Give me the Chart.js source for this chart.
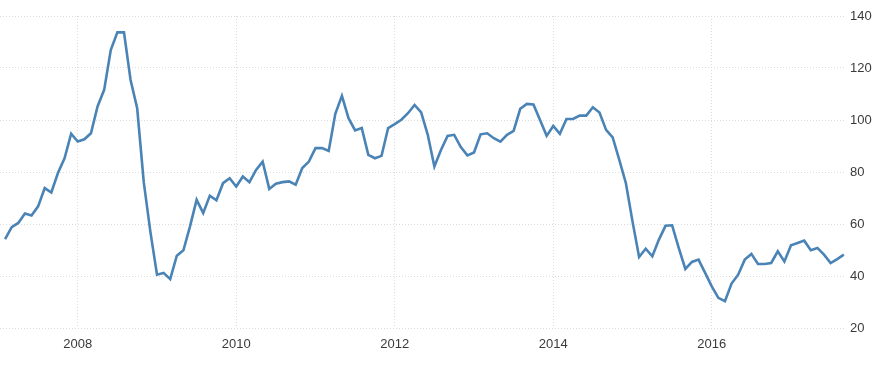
<!DOCTYPE html>
<html>
<head>
<meta charset="utf-8">
<script src="https://cdn.jsdelivr.net/npm/chart.js@4"></script>
<style>
  html, body { margin: 0; padding: 0; background: #fff; }
  #wrap { width: 886px; height: 373px; position: relative; }
</style>
</head>
<body>
<div id="wrap"><canvas id="c"></canvas></div>
<script>
// monthly values, Jan..Dec per year
const years = [2007, 2008, 2009, 2010, 2011, 2012, 2013, 2014, 2015, 2016, 2017];
const v2007 = [54.2, 58.8, 60.4, 64.0, 63.3, 66.8, 73.8, 72.1, 79.6, 85.3, 94.7, 91.7];
const v2008 = [92.6, 94.9, 105.2, 111.6, 126.9, 133.7, 133.7, 115.4, 104.5, 76.0, 57.0, 40.5];
const v2009 = [41.2, 38.8, 47.8, 49.9, 59.1, 69.3, 64.2, 70.9, 69.1, 75.7, 77.6, 74.4];
const v2010 = [78.3, 76.1, 80.8, 84.0, 73.5, 75.5, 76.1, 76.4, 75.1, 81.5, 84.0, 89.2];
const v2011 = [89.2, 88.1, 102.4, 109.3, 100.7, 96.0, 96.9, 86.6, 85.3, 86.2, 96.9, 98.4];
const v2012 = [100.1, 102.6, 105.8, 102.9, 94.3, 82.1, 88.5, 93.9, 94.3, 89.6, 86.4, 87.5];
const v2013 = [94.5, 94.9, 93.0, 91.7, 94.3, 95.8, 104.3, 106.2, 106.0, 100.0, 93.9, 97.7];
const v2014 = [94.7, 100.4, 100.4, 101.7, 101.7, 104.9, 102.9, 96.2, 93.3, 84.7, 75.7, 61.0];
const v2015 = [47.3, 50.5, 47.6, 54.0, 59.3, 59.5, 50.8, 42.7, 45.4, 46.3, 41.2, 36.0];
const v2016 = [31.6, 30.3, 37.1, 40.5, 46.3, 48.5, 44.6, 44.6, 45.0, 49.5, 45.6, 51.8];
const v2017 = [52.7, 53.6, 49.9, 50.8, 48.2, 45.0, 46.5, 48.2];

const xTickYears = [2008, 2010, 2012, 2014, 2016];
const yTicks = [20, 40, 60, 80, 100, 120, 140];

const byYear = [v2007, v2008, v2009, v2010, v2011, v2012, v2013, v2014, v2015, v2016, v2017];

// each monthly point sits at the end of its month
const points = [];
byYear.forEach((vals, yi) => {
  vals.forEach((v, m) => {
    points.push({ x: years[yi] + (m + 1) / 12, y: v });
  });
});

const gridColor = '#dcdcdc';
const labelFont = { family: 'Liberation Sans, Arial, sans-serif', size: 13 };

new Chart(document.getElementById('c'), {
  type: 'line',
  data: {
    datasets: [{
      data: points,
      borderColor: '#4a83b5',
      borderWidth: 2.6,
      pointRadius: 0,
      tension: 0,
      fill: false
    }]
  },
  options: {
    responsive: true,
    maintainAspectRatio: false,
    animation: false,
    layout: { padding: { top: 16, left: 0, right: 0, bottom: 0 } },
    plugins: { legend: { display: false }, tooltip: { enabled: false } },
    scales: {
      x: {
        type: 'linear',
        min: 2007.019,
        max: 2017.694,
        afterBuildTicks: axis => { axis.ticks = xTickYears.map(v => ({ value: v })); },
        afterFit: axis => { axis.height = 45; },
        ticks: {
          color: '#3a3a3a',
          font: labelFont,
          padding: 9,
          maxRotation: 0,
          autoSkip: false,
          callback: v => String(v)
        },
        grid: { color: gridColor, drawTicks: false, lineWidth: 1 },
        border: { display: false, dash: [1, 2] }
      },
      y: {
        position: 'right',
        min: 20,
        max: 140,
        afterBuildTicks: axis => { axis.ticks = yTicks.map(v => ({ value: v })); },
        afterFit: axis => { axis.width = 40; },
        ticks: {
          color: '#3a3a3a',
          font: labelFont,
          padding: 4
        },
        grid: { color: gridColor, drawTicks: false, lineWidth: 1 },
        border: { display: false, dash: [1, 2] }
      }
    }
  }
});
</script>
</body>
</html>
